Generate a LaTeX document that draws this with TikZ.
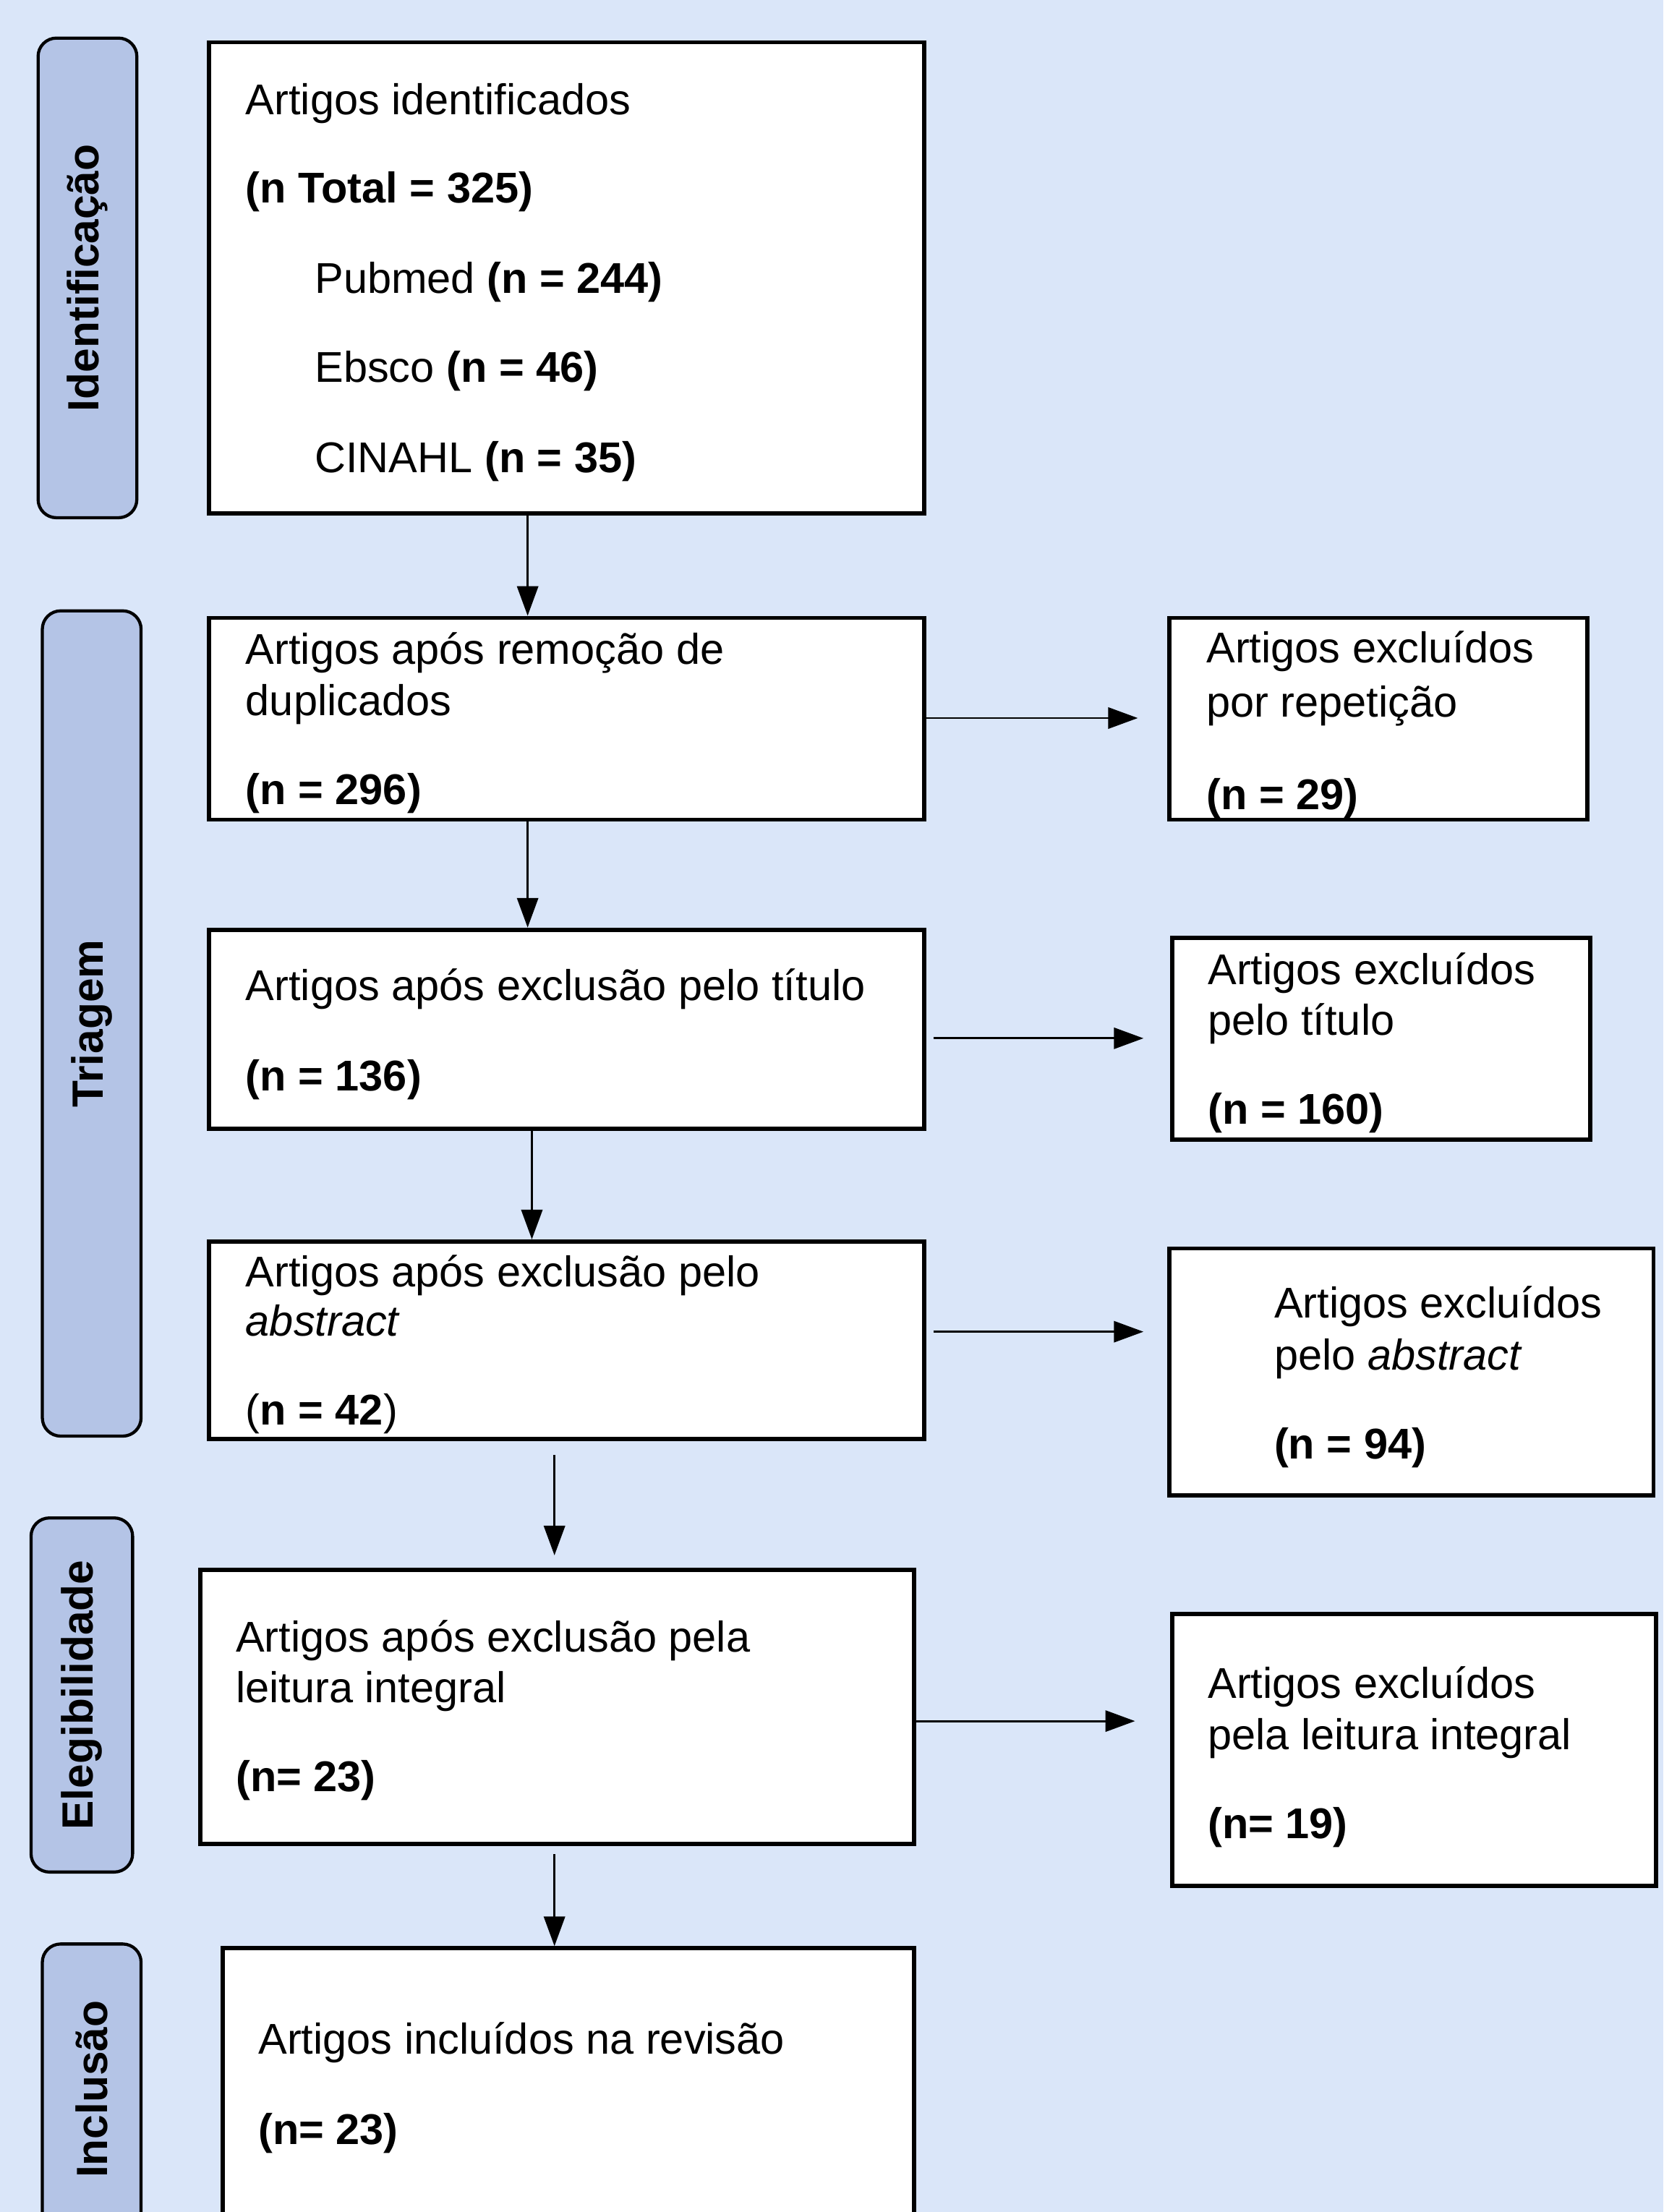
\documentclass[tikz,border=0pt]{standalone}
\usepackage{fontspec}
\setmainfont{Liberation Sans}
\usetikzlibrary{arrows.meta}
\definecolor{bgblue}{HTML}{DAE6F9}
\definecolor{labfill}{HTML}{B4C4E6}
\begin{document}
\begin{tikzpicture}[x=1pt,y=-1pt,
  box/.style={draw=black, line width=3pt, fill=white, inner sep=0pt, rectangle},
  lab/.style={draw=black, line width=2.2pt, fill=labfill, rounded corners=13pt, inner sep=0pt, rectangle},
  labtxt/.style={rotate=90, font=\fontsize{31}{36}\selectfont\bfseries, inner sep=0pt},
  txt/.style={anchor=west, inner sep=0pt, font=\fontsize{30.5}{36}\selectfont, text height=25.5pt, text depth=3.5pt},
  arr/.style={line width=1.5pt, -{Triangle[length=21pt,width=15pt]}}
]
\path[use as bounding box, fill=bgblue] (0,0) rectangle (1179,1568);
\clip (0,0) rectangle (1179,1568);

% stage labels
\node[lab, minimum width=70pt, minimum height=340pt] (l1) at (62,197) {};
\node[labtxt] (t1) at (l1.center) {Identificação};
\node[lab, minimum width=70pt, minimum height=585pt] (l2) at (65,725.5) {};
\node[labtxt] (t2) at (l2.center) {Triagem};
\node[lab, minimum width=72pt, minimum height=251pt] (l3) at (58,1201.5) {};
\node[labtxt] (t3) at (l3.center) {Elegibilidade};
\node[lab, minimum width=70pt, minimum height=262pt] (l4) at (65,1509) {};
\node[labtxt] (t4) at (65,1481) {Inclusão};

% boxes
\node[box, minimum width=507pt, minimum height=334pt] (b1) at (401.5,197) {};
\node[box, minimum width=507pt, minimum height=143pt] (b2) at (401.5,509.5) {};
\node[box, minimum width=296pt, minimum height=143pt] (b3) at (977,509.5) {};
\node[box, minimum width=507pt, minimum height=141pt] (b4) at (401.5,729.5) {};
\node[box, minimum width=296pt, minimum height=143pt] (b5) at (979,736.5) {};
\node[box, minimum width=507pt, minimum height=140pt] (b6) at (401.5,950) {};
\node[box, minimum width=343pt, minimum height=175pt] (b7) at (1000.5,972.5) {};
\node[box, minimum width=506pt, minimum height=194pt] (b8) at (395,1210) {};
\node[box, minimum width=343pt, minimum height=193pt] (b9) at (1002.5,1240.5) {};
\node[box, minimum width=490pt, minimum height=239pt] (b10) at (403,1500.5) {};

% box texts
\node[txt] (b1a) at (174,70) {Artigos identificados};
\node[txt] (b1b) at (174,133) {\textbf{(n Total = 325)}};
\node[txt] (b1c) at (223,197) {Pubmed \textbf{(n = 244)}};
\node[txt] (b1d) at (223,260) {Ebsco \textbf{(n = 46)}};
\node[txt] (b1e) at (223,324) {CINAHL \textbf{(n = 35)}};

\node[txt] (b2a) at (174,460) {Artigos após remoção de};
\node[txt] (b2b) at (174,496) {duplicados};
\node[txt] (b2c) at (174,559) {\textbf{(n = 296)}};

\node[txt] (b3a) at (855,459) {Artigos excluídos};
\node[txt] (b3b) at (855,497) {por repetição};
\node[txt] (b3c) at (855,563) {\textbf{(n = 29)}};

\node[txt] (b4a) at (174,698) {Artigos após exclusão pelo título};
\node[txt] (b4b) at (174,762) {\textbf{(n = 136)}};

\node[txt] (b5a) at (856,687) {Artigos excluídos};
\node[txt] (b5b) at (856,723) {pelo título};
\node[txt] (b5c) at (856,786) {\textbf{(n = 160)}};

\node[txt] (b6a) at (174,901) {Artigos após exclusão pelo};
\node[txt] (b6b) at (174,936) {\itshape abstract};
\node[txt] (b6c) at (174,999) {(\textbf{n = 42})};

\node[txt] (b7a) at (903,923) {Artigos excluídos};
\node[txt] (b7b) at (903,960) {pelo \textit{abstract}};
\node[txt] (b7c) at (903,1023) {\textbf{(n = 94)}};

\node[txt] (b8a) at (167,1160) {Artigos após exclusão pela};
\node[txt] (b8b) at (167,1196) {leitura integral};
\node[txt] (b8c) at (167,1259) {\textbf{(n= 23)}};

\node[txt] (b9a) at (856,1193) {Artigos excluídos};
\node[txt] (b9b) at (856,1229) {pela leitura integral};
\node[txt] (b9c) at (856,1292) {\textbf{(n= 19)}};

\node[txt] (b10a) at (183,1445) {Artigos incluídos na revisão};
\node[txt] (b10b) at (183,1509) {\textbf{(n= 23)}};

% arrow guide coordinates
\coordinate (v1) at (374,0);
\coordinate (v2) at (377,0);
\coordinate (v3) at (393,0);
\coordinate (h1) at (0,509);
\coordinate (h2) at (0,736);
\coordinate (h3) at (0,944);
\coordinate (h4) at (0,1220);

% vertical arrows
\draw[arr] (b1.south -| v1) -- (b2.north -| v1);
\draw[arr] (b2.south -| v1) -- (b4.north -| v1);
\draw[arr] (b4.south -| v2) -- (b6.north -| v2);
\draw[arr, shorten <=10pt, shorten >=9pt] (b6.south -| v3) -- (b8.north -| v3);
\draw[arr, shorten <=6pt] (b8.south -| v3) -- (b10.north -| v3);

% horizontal arrows
\draw[arr, shorten >=21pt] (b2.east |- h1) -- (b3.west |- h1);
\draw[arr, shorten <=5pt, shorten >=19pt] (b4.east |- h2) -- (b5.west |- h2);
\draw[arr, shorten <=5pt, shorten >=17pt] (b6.east |- h3) -- (b7.west |- h3);
\draw[arr, shorten >=25pt] (b8.east |- h4) -- (b9.west |- h4);
\end{tikzpicture}
\end{document}
